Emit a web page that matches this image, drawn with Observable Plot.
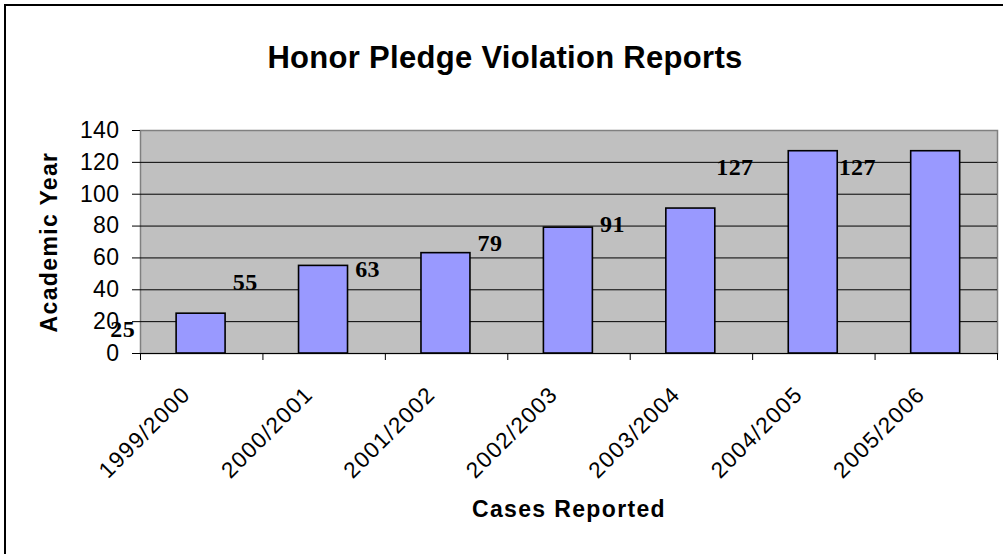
<!DOCTYPE html>
<html><head><meta charset="utf-8">
<script src="https://cdn.jsdelivr.net/npm/d3@7"></script>
<script src="https://cdn.jsdelivr.net/npm/@observablehq/plot@0.6"></script>
<style>
body{margin:0;background:#fff;}
#wrap{position:relative;width:1003px;height:554px;overflow:hidden;background:#fff;}
#border{position:absolute;left:4px;top:4px;width:1100px;height:700px;border:2px solid #000;box-sizing:border-box;}
#chart{position:absolute;left:0;top:0;}
</style></head><body>
<div id="wrap"><div id="border"></div><div id="chart"></div></div>
<script>
const years = ["1999/2000","2000/2001","2001/2002","2002/2003","2003/2004","2004/2005","2005/2006"];
const cases = [25,55,63,79,91,127,127];
const yTicks = [0,20,40,60,80,100,120,140];
const title = "Honor Pledge Violation Reports";
const xTitle = "Cases Reported";
const yTitle = "Academic Year";

const data = years.map((year,i)=>({year,i,cases:cases[i]}));
const sans = "'Liberation Sans', Arial, sans-serif";
const serif = "'Liberation Serif', 'Times New Roman', serif";

const plot = Plot.plot({
  width:1003, height:554,
  marginLeft:140, marginRight:6, marginTop:130, marginBottom:201,
  style:{fontFamily:sans, background:"transparent", overflow:"visible", color:"#000"},
  x:{domain:[0,7], axis:null},
  y:{domain:[0,140], axis:null},
  marks:[
    Plot.frame({fill:"#c0c0c0", stroke:"#808080", strokeWidth:1.5}),
    Plot.ruleY(yTicks.filter(v=>v>0 && v<140), {stroke:"#000", strokeWidth:1}),
    Plot.rectY(data,{x1:d=>d.i+0.295, x2:d=>d.i+0.695, y1:0, y2:"cases", fill:"#9999ff", stroke:"#000", strokeWidth:1.6}),
    Plot.ruleY([0],{stroke:"#000", strokeWidth:1}),
    Plot.axisY({ticks:yTicks, tickSize:8, tickPadding:13, fontSize:23, label:null}),
    Plot.axisX({ticks:d3.range(years.length+1), tickSize:7, tickFormat:()=>"", label:null}),
    Plot.text(data,{x:d=>d.i+0.5, y:0, text:"year", rotate:-45, textAnchor:"end", lineAnchor:"middle", dx:-15, dy:37, fontSize:22.5}),
    Plot.text(data,{x:d=>d.i+0.5, y:"cases", text:d=>String(d.cases), dx:-79, dy:16, fontFamily:serif, fontWeight:"bold", fontSize:24}),
    Plot.text([title],{text:d=>d, frameAnchor:"top", dx:-64, dy:-63, lineAnchor:"bottom", fontSize:31, fontWeight:"bold"}),
    Plot.text([xTitle],{text:d=>d, frameAnchor:"bottom", dy:156, lineAnchor:"middle", fontSize:23, fontWeight:"bold"}),
    Plot.text([yTitle],{text:d=>d, frameAnchor:"left", textAnchor:"middle", dx:-91, rotate:-90, lineAnchor:"middle", fontSize:23, fontWeight:"bold"})
  ]
});
d3.select(plot).selectAll("text").each(function(){
  const t = this.textContent;
  let ls = "1.35px";
  if (t === title) ls = "0.3px";
  else if (/^\d+$/.test(t)) ls = "0.4px";
  this.style.letterSpacing = ls;
});
document.getElementById("chart").appendChild(plot);
</script>
</body></html>
